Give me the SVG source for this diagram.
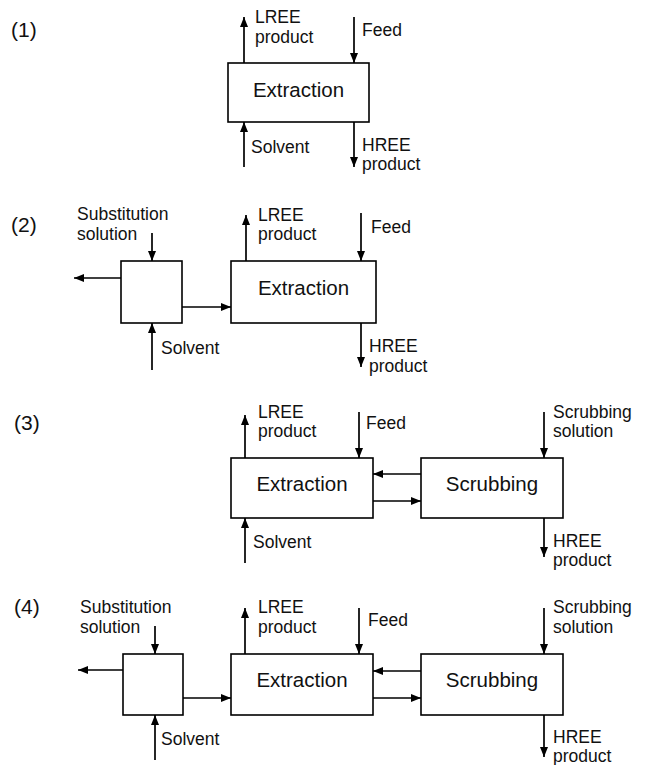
<svg xmlns="http://www.w3.org/2000/svg" width="646" height="765" viewBox="0 0 646 765">
<defs>
<marker id="ah" markerUnits="userSpaceOnUse" markerWidth="11" markerHeight="9" refX="10" refY="4" orient="auto">
<path d="M0,0 L10,4 L0,8 z" fill="#000"/>
</marker>
<style>
.box{fill:#fff;stroke:#000;stroke-width:1.6}
.ln{stroke:#000;stroke-width:1.7;fill:none;marker-end:url(#ah)}
text{font-family:"Liberation Sans",Arial,sans-serif;fill:#111}
.lb{font-size:17.5px}
.tt{font-size:20.5px;text-anchor:middle}
.pn{font-size:21px}
</style>
</defs>
<rect width="646" height="765" fill="#fff"/>

<g id="panel-labels">
<text class="pn" x="11" y="37">(1)</text>
<text class="pn" x="11" y="232">(2)</text>
<text class="pn" x="14" y="430">(3)</text>
<text class="pn" x="14" y="614">(4)</text>
</g>

<!-- Panel 1 -->
<g id="p1-extraction">
<rect class="box" x="228" y="63" width="141" height="59"/>
<text class="tt" x="298.5" y="97">Extraction</text>
</g>
<g id="p1-labels">
<text class="lb" x="255" y="23">LREE</text>
<text class="lb" x="255" y="43">product</text>
<text class="lb" x="362" y="36">Feed</text>
<text class="lb" x="251" y="153">Solvent</text>
<text class="lb" x="362" y="151">HREE</text>
<text class="lb" x="362" y="170">product</text>
</g>

<!-- Panel 2 -->
<g id="p2-substitution">
<rect class="box" x="121" y="261" width="61" height="62"/>
</g>
<g id="p2-extraction">
<rect class="box" x="231" y="261" width="145" height="62"/>
<text class="tt" x="303.5" y="295">Extraction</text>
</g>
<g id="p2-labels">
<text class="lb" x="77" y="220">Substitution</text>
<text class="lb" x="77" y="240">solution</text>
<text class="lb" x="258" y="221">LREE</text>
<text class="lb" x="258" y="240">product</text>
<text class="lb" x="371" y="233">Feed</text>
<text class="lb" x="161" y="354">Solvent</text>
<text class="lb" x="369" y="352">HREE</text>
<text class="lb" x="369" y="372">product</text>
</g>

<!-- Panel 3 -->
<g id="p3-extraction">
<rect class="box" x="231" y="458" width="142" height="60"/>
<text class="tt" x="302" y="491">Extraction</text>
</g>
<g id="p3-scrubbing">
<rect class="box" x="421" y="458" width="142" height="60"/>
<text class="tt" x="492" y="491">Scrubbing</text>
</g>
<g id="p3-labels">
<text class="lb" x="258" y="418">LREE</text>
<text class="lb" x="258" y="437">product</text>
<text class="lb" x="366" y="429">Feed</text>
<text class="lb" x="553" y="418">Scrubbing</text>
<text class="lb" x="553" y="437">solution</text>
<text class="lb" x="253" y="548">Solvent</text>
<text class="lb" x="553" y="547">HREE</text>
<text class="lb" x="553" y="566">product</text>
</g>

<!-- Panel 4 -->
<g id="p4-substitution">
<rect class="box" x="123" y="654" width="60" height="61"/>
</g>
<g id="p4-extraction">
<rect class="box" x="231" y="654" width="142" height="61"/>
<text class="tt" x="302" y="687">Extraction</text>
</g>
<g id="p4-scrubbing">
<rect class="box" x="421" y="654" width="142" height="61"/>
<text class="tt" x="492" y="687">Scrubbing</text>
</g>
<g id="p4-labels">
<text class="lb" x="80" y="613">Substitution</text>
<text class="lb" x="80" y="633">solution</text>
<text class="lb" x="258" y="613">LREE</text>
<text class="lb" x="258" y="633">product</text>
<text class="lb" x="368" y="626">Feed</text>
<text class="lb" x="553" y="613">Scrubbing</text>
<text class="lb" x="553" y="633">solution</text>
<text class="lb" x="161" y="745">Solvent</text>
<text class="lb" x="553" y="743">HREE</text>
<text class="lb" x="553" y="762">product</text>
</g>

<g id="connectors">
<!-- P1 -->
<line class="ln" x1="244" y1="63" x2="244" y2="17"/>
<line class="ln" x1="354" y1="17" x2="354" y2="63"/>
<line class="ln" x1="244" y1="167" x2="244" y2="122"/>
<line class="ln" x1="354" y1="122" x2="354" y2="167"/>
<!-- P2 -->
<line class="ln" x1="152" y1="233" x2="152" y2="261"/>
<line class="ln" x1="121" y1="278" x2="74" y2="278"/>
<line class="ln" x1="182" y1="307" x2="231" y2="307"/>
<line class="ln" x1="152" y1="370" x2="152" y2="323"/>
<line class="ln" x1="246" y1="261" x2="246" y2="215"/>
<line class="ln" x1="361" y1="213" x2="361" y2="261"/>
<line class="ln" x1="361" y1="323" x2="361" y2="367"/>
<!-- P3 -->
<line class="ln" x1="245" y1="458" x2="245" y2="415"/>
<line class="ln" x1="359" y1="412" x2="359" y2="458"/>
<line class="ln" x1="544" y1="412" x2="544" y2="458"/>
<line class="ln" x1="421" y1="474" x2="373" y2="474"/>
<line class="ln" x1="373" y1="501" x2="421" y2="501"/>
<line class="ln" x1="245" y1="563" x2="245" y2="518"/>
<line class="ln" x1="544" y1="518" x2="544" y2="557"/>
<!-- P4 -->
<line class="ln" x1="155" y1="626" x2="155" y2="654"/>
<line class="ln" x1="123" y1="670" x2="78" y2="670"/>
<line class="ln" x1="183" y1="698" x2="231" y2="698"/>
<line class="ln" x1="155" y1="760" x2="155" y2="715"/>
<line class="ln" x1="245" y1="654" x2="245" y2="608"/>
<line class="ln" x1="359" y1="608" x2="359" y2="654"/>
<line class="ln" x1="544" y1="608" x2="544" y2="654"/>
<line class="ln" x1="421" y1="671" x2="373" y2="671"/>
<line class="ln" x1="373" y1="698" x2="421" y2="698"/>
<line class="ln" x1="544" y1="715" x2="544" y2="757"/>
</g>
</svg>
